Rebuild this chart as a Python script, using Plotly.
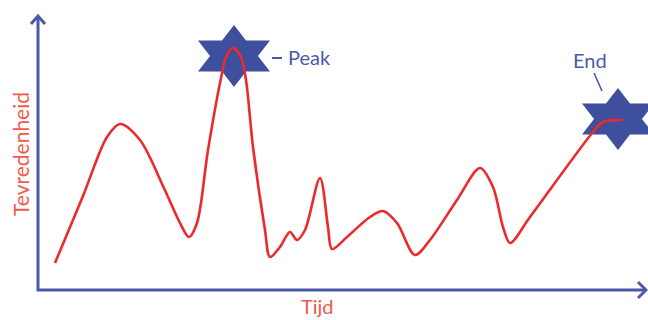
import math
import plotly.graph_objects as go

# ---- data (time units from the origin, satisfaction units above the time axis) ----
ORIGIN_PX = (38, 290)  # pixel position of the axes origin in the 648x320 picture

curve_px_x = [55, 83, 107, 120, 140, 163, 180, 189, 197, 208, 221, 226, 233, 241, 246,
              253, 265, 270, 280, 290, 297, 305, 320, 328, 332, 347, 370, 383, 397, 415,
              430, 457, 480, 493, 503, 510, 530, 593, 603, 623]
curve_px_y = [263, 196, 137, 124, 140, 186, 223, 237, 223, 150, 78, 57, 48, 57, 80,
              147, 230, 257, 247, 232, 240, 230, 178, 227, 249, 237, 217, 211, 223, 255,
              240, 200, 168, 187, 227, 243, 217, 132, 122, 120]

tijd = [px - ORIGIN_PX[0] for px in curve_px_x]
tevredenheid = [ORIGIN_PX[1] - py for py in curve_px_y]

x_label = "Tijd"
y_label = "Tevredenheid"
peak_label = "Peak"
end_label = "End"

# ---- styles ----
W, H = 648, 320
AXIS_BLUE = "#4a59aa"
STAR_BLUE = "#3d4f9d"
TEXT_BLUE = "#4c5ba8"
CURVE_RED = "#ec2a2c"
LABEL_RED = "#f15a4a"
FONT = "Lato"

x_range = [-ORIGIN_PX[0], W - ORIGIN_PX[0]]
y_range = [ORIGIN_PX[1] - H, ORIGIN_PX[1]]


def fx(px):
    return px / W


def fy(py):
    return 1 - py / H


def star(cx, cy, ry=31.0, sx=1.34):
    xs, ys = [], []
    for k in range(12):
        ang = math.radians(90 + 30 * k)
        r = ry if k % 2 == 0 else ry / math.sqrt(3)
        xs.append(cx + sx * r * math.cos(ang))
        ys.append(cy + r * math.sin(ang))
    xs.append(xs[0])
    ys.append(ys[0])
    return xs, ys


i_peak = max(range(len(tevredenheid)), key=lambda i: tevredenheid[i])
peak_c = (tijd[i_peak] + 1, tevredenheid[i_peak] - 8)
end_c = (tijd[-1] - 5, tevredenheid[-1] + 1)

fig = go.Figure()
for c in (peak_c, end_c):
    sxs, sys_ = star(*c)
    fig.add_trace(go.Scatter(x=sxs, y=sys_, mode="lines", fill="toself",
                             fillcolor=STAR_BLUE, line=dict(width=0, color=STAR_BLUE),
                             hoverinfo="skip", showlegend=False))

fig.add_trace(go.Scatter(x=tijd, y=tevredenheid, mode="lines",
                         line=dict(color=CURVE_RED, width=2.6, shape="spline", smoothing=0.9),
                         showlegend=False))

shapes = []
# axes with open arrowheads
ox, oy = ORIGIN_PX
shapes.append(dict(type="path", xref="paper", yref="paper",
                   path=f"M {fx(ox)},{fy(16)} L {fx(ox)},{fy(oy)} L {fx(646)},{fy(oy)}",
                   line=dict(color=AXIS_BLUE, width=3)))
shapes.append(dict(type="path", xref="paper", yref="paper",
                   path=f"M {fx(ox-7)},{fy(24)} L {fx(ox)},{fy(16)} L {fx(ox+7)},{fy(24)}",
                   line=dict(color=AXIS_BLUE, width=3)))
shapes.append(dict(type="path", xref="paper", yref="paper",
                   path=f"M {fx(638)},{fy(oy-8)} L {fx(646)},{fy(oy)} L {fx(638)},{fy(oy+8)}",
                   line=dict(color=AXIS_BLUE, width=3)))
# leader lines
shapes.append(dict(type="line", xref="paper", yref="paper",
                   x0=fx(272), x1=fx(282), y0=fy(58), y1=fy(58),
                   line=dict(color=TEXT_BLUE, width=2)))
shapes.append(dict(type="line", xref="paper", yref="paper",
                   x0=fx(594), x1=fx(602), y0=fy(73), y1=fy(91),
                   line=dict(color=TEXT_BLUE, width=1.6)))

annotations = [
    dict(text=y_label, xref="paper", yref="paper", x=fx(20), y=fy(154),
         textangle=-90, showarrow=False, xanchor="center", yanchor="middle",
         font=dict(family=FONT, size=21, color=LABEL_RED)),
    dict(text=x_label, xref="paper", yref="paper", x=fx(317), y=0,
         showarrow=False, xanchor="center", yanchor="bottom",
         font=dict(family=FONT, size=20, color=LABEL_RED)),
    dict(text=peak_label, xref="paper", yref="paper", x=fx(286), y=fy(57),
         showarrow=False, xanchor="left", yanchor="middle",
         font=dict(family=FONT, size=20, color=TEXT_BLUE)),
    dict(text=end_label, xref="paper", yref="paper", x=fx(590), y=fy(60),
         showarrow=False, xanchor="center", yanchor="middle",
         font=dict(family=FONT, size=20, color=TEXT_BLUE)),
]

fig.update_layout(
    width=W, height=H, margin=dict(l=0, r=0, t=0, b=0),
    paper_bgcolor="white", plot_bgcolor="white",
    xaxis=dict(range=x_range, visible=False, fixedrange=True),
    yaxis=dict(range=y_range, visible=False, fixedrange=True),
    shapes=shapes, annotations=annotations,
)
fig.write_html("out.html", config={"displayModeBar": False},
               post_script="document.body.style.margin='0';document.body.style.overflow='hidden';")
